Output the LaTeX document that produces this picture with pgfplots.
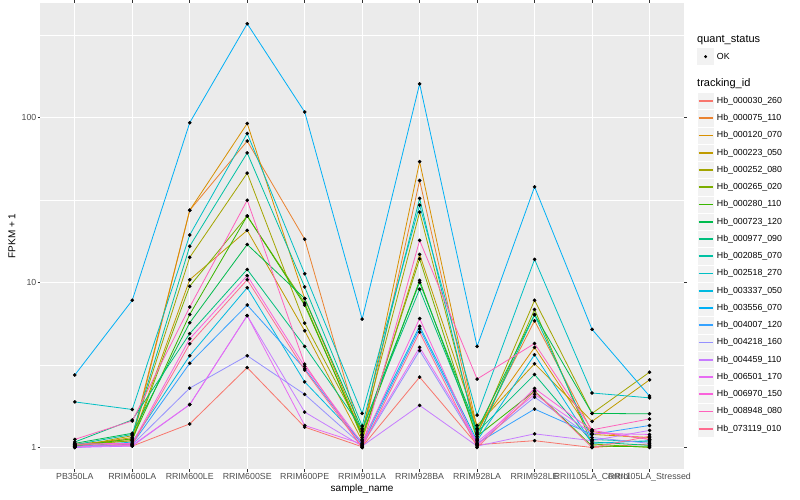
\documentclass[border=0pt]{standalone}
\usepackage{fontspec}
\setmainfont{Liberation Sans}
\usepackage{pgfplots}
\usepackage{pgfplotstable}
\pgfplotsset{compat=1.18}

\definecolor{panel}{HTML}{EBEBEB}
\definecolor{keybg}{HTML}{F2F2F2}
\definecolor{grey20}{HTML}{333333}
\definecolor{grey30}{HTML}{4D4D4D}
\definecolor{c1}{HTML}{F8766D}
\definecolor{c2}{HTML}{EA8331}
\definecolor{c3}{HTML}{D89000}
\definecolor{c4}{HTML}{C09B00}
\definecolor{c5}{HTML}{A3A500}
\definecolor{c6}{HTML}{7CAE00}
\definecolor{c7}{HTML}{39B600}
\definecolor{c8}{HTML}{00BB4E}
\definecolor{c9}{HTML}{00BF7D}
\definecolor{c10}{HTML}{00C1A3}
\definecolor{c11}{HTML}{00BFC4}
\definecolor{c12}{HTML}{00BAE0}
\definecolor{c13}{HTML}{00B0F6}
\definecolor{c14}{HTML}{35A2FF}
\definecolor{c15}{HTML}{9590FF}
\definecolor{c16}{HTML}{C77CFF}
\definecolor{c17}{HTML}{E76BF3}
\definecolor{c18}{HTML}{FA62DB}
\definecolor{c19}{HTML}{FF62BC}
\definecolor{c20}{HTML}{FF6C90}

% FPKM + 1, one row per sample, one column per tracking_id
\pgfplotstableread{
x  s1   s2   s3   s4   s5   s6   s7   s8   s9   s10  s11  s12  s13  s14  s15  s16  s17  s18  s19  s20
1  1.03 1.04 1.02 1.05 1.01 1.03 1.02 1.06 1.08 1.04 1.89 1.01 2.75 1.00 1.02 1.00 1.01 1.05 1.12 1.04
2  1.02 1.10 1.15 1.12 1.18 1.10 1.13 1.22 1.47 1.20 1.70 1.08 7.8  1.05 1.04 1.02 1.03 1.06 1.45 1.04
3  1.39 27.4 27.4 10.4 14.2 9.5  6.4  5.7  4.9  16.6 19.4 3.6  93   3.24 2.29 1.82 1.82 4.56 7.1  4.25
4  3.05 72   92   20.7 46   25.3 25.3 17   12   61   80   9.3  370  7.3  3.6  6.3  6.3  11   31.5 10.4
5  1.33 18.3 8.0  5.1  5.67 7.5  7.3  8.0  4.1  9.4  11.3 2.5  108  3.0  2.1  1.64 1.36 3.1  3.2  2.95
6  1.01 1.12 1.20 1.10 1.25 1.15 1.18 1.28 1.30 1.35 1.61 1.08 6.0  1.04 1.03 1.02 1.05 1.06 1.00 1.00
7  2.67 41.5 54   14.8 26.7 13.9 10.3 10.0 9.1  32.3 29.4 5.43 160  5.24 3.87 1.8  4.05 6.05 18   5.0
8  1.04 1.22 1.30 1.36 1.20 1.12 1.17 1.28 1.24 1.14 1.57 1.10 4.1  1.06 1.05 1.02 1.08 1.03 2.6  1.00
9  1.10 5.86 4.04 3.22 7.8  6.86 2.2  6.4  2.77 6.37 13.8 3.65 38   1.71 2.02 1.21 2.1  2.28 4.27 2.19
10 1.00 1.25 1.20 1.44 1.61 1.05 1.02 1.61 1.08 1.12 2.14 1.06 5.2  1.20 1.15 1.10 1.22 1.27 1.28 1.00
11 1.05 1.12 1.15 2.57 2.86 1.00 1.01 1.60 1.03 1.08 2.00 1.10 2.05 1.36 1.06 1.27 1.20 1.12 1.49 1.17
}\fpkm

\begin{document}
\begin{tikzpicture}
\begin{axis}[
  at={(40.3pt,31pt)}, anchor=south west,
  scale only axis, width=643.7pt, height=466pt,
  xmin=0.4, xmax=11.6,
  ymode=log, ymin=0.741, ymax=494,
  axis background/.style={fill=panel},
  axis line style={draw=none},
  grid=both,
  major grid style={white, line width=1.07pt},
  minor grid style={white, line width=0.53pt},
  xtick={1,...,11},
  xticklabels={PB350LA,RRIM600LA,RRIM600LE,RRIM600SE,RRIM600PE,RRIM901LA,RRIM928BA,RRIM928LA,RRIM928LE,RRII105LA\_Control,RRII105LA\_Stressed},
  ytick={1,10,100}, yticklabels={1,10,100},
  minor ytick={3.1623,31.623,316.23},
  tick align=outside, major tick length=2.75pt, minor tick length=0pt,
  tick style={grey20, line width=0.6pt},
  /pgf/number format/assume math mode=true,
  tick label style={font=\fontsize{8.8}{10}\selectfont, text=grey30},
  xticklabel style={inner sep=1pt},
  yticklabel style={inner sep=1pt},
  xlabel={sample\_name}, ylabel={FPKM + 1},
  label style={font=\fontsize{11}{13}\selectfont},
  every axis x label/.style={at={(axis description cs:0.5,0)}, yshift=-20pt, anchor=center},
  every axis y label/.style={at={(axis description cs:0,0.5)}, xshift=-28.3pt, rotate=90, anchor=center},
  clip=false,
]
\pgfplotsinvokeforeach{1,...,20}{
  \addplot[c#1, line width=0.8pt, no marks] table[x=x, y=s#1]{\fpkm};
}
\pgfplotsinvokeforeach{1,...,20}{
  \addplot[black, only marks, mark=*, mark size=1.6pt] table[x=x, y=s#1]{\fpkm};
}
\end{axis}

% legend
\node[anchor=west, inner sep=0pt, font=\fontsize{11}{13}\selectfont] at (697pt,460pt) {quant\_status};
\fill[keybg] (697pt,434.7pt) rectangle (714.3pt,452pt);
\fill[black] (705.6pt,443.3pt) circle (1.6pt);
\node[anchor=west, inner sep=0pt, font=\fontsize{8.8}{10}\selectfont] at (716.7pt,443.3pt) {OK};
\node[anchor=west, inner sep=0pt, font=\fontsize{11}{13}\selectfont] at (697pt,416pt) {tracking\_id};
\foreach \i/\name in {1/000030\_260,2/000075\_110,3/000120\_070,4/000223\_050,5/000252\_080,
  6/000265\_020,7/000280\_110,8/000723\_120,9/000977\_090,10/002085\_070,
  11/002518\_270,12/003337\_050,13/003556\_070,14/004007\_120,15/004218\_160,
  16/004459\_110,17/006501\_170,18/006970\_150,19/008948\_080,20/073119\_010}{
  \pgfmathsetmacro{\yy}{399-(\i-1)*17.25}
  \fill[keybg, draw=white, line width=0.5pt] (697pt,\yy pt-8.64pt) rectangle (714.3pt,\yy pt+8.64pt);
  \draw[c\i, line width=1.7pt] (698.7pt,\yy pt) -- (712.6pt,\yy pt);
  \node[anchor=west, inner sep=0pt, font=\fontsize{8.8}{10}\selectfont] at (716.7pt,\yy pt) {Hb\_\name};
}
\pgfresetboundingbox
\useasboundingbox (0,0) rectangle (800pt,500pt);
\end{tikzpicture}
\end{document}
